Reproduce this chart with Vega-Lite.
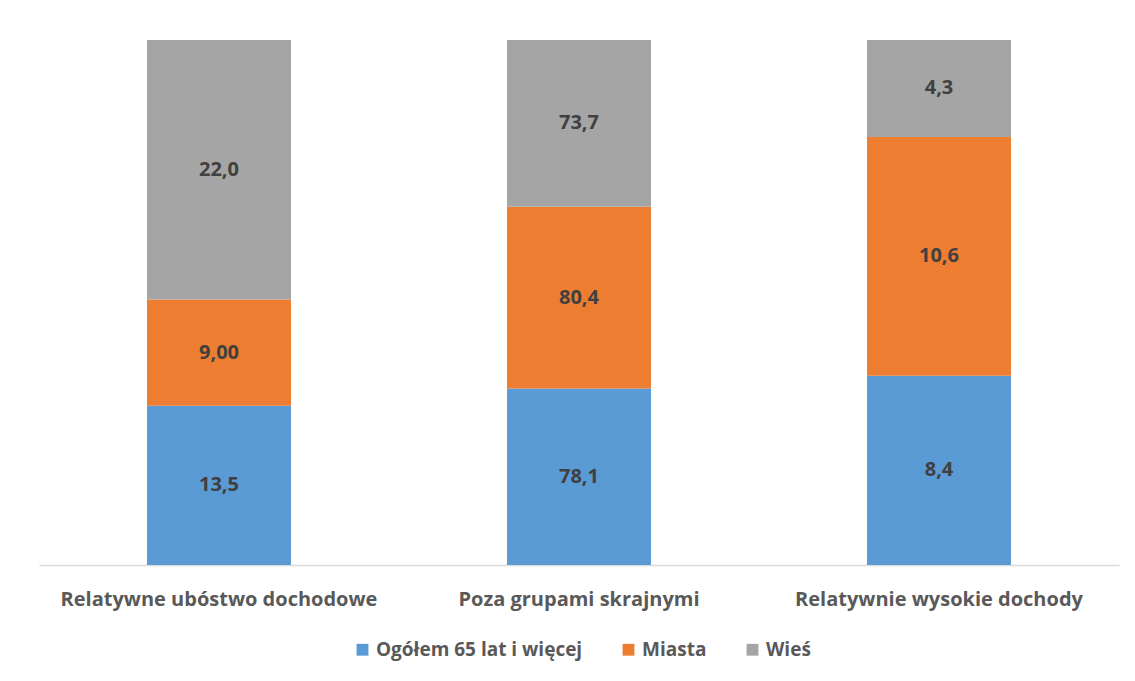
{
  "$schema": "https://vega.github.io/schema/vega-lite/v6.json",
  "width": 1080,
  "height": 525,
  "autosize": {"type": "none"},
  "padding": {"left": 39, "top": 40, "right": 16, "bottom": 116},
  "background": "white",
  "config": {"view": {"stroke": null}, "font": "Open Sans"},
  "data": {"values": [
    {"cat": "Relatywne ubóstwo dochodowe", "series": "Ogółem 65 lat i więcej", "k": 1, "value": 13.5, "label": "13,5"},
    {"cat": "Relatywne ubóstwo dochodowe", "series": "Miasta", "k": 2, "value": 9.0, "label": "9,00"},
    {"cat": "Relatywne ubóstwo dochodowe", "series": "Wieś", "k": 3, "value": 22.0, "label": "22,0"},
    {"cat": "Poza grupami skrajnymi", "series": "Ogółem 65 lat i więcej", "k": 1, "value": 78.1, "label": "78,1"},
    {"cat": "Poza grupami skrajnymi", "series": "Miasta", "k": 2, "value": 80.4, "label": "80,4"},
    {"cat": "Poza grupami skrajnymi", "series": "Wieś", "k": 3, "value": 73.7, "label": "73,7"},
    {"cat": "Relatywnie wysokie dochody", "series": "Ogółem 65 lat i więcej", "k": 1, "value": 8.4, "label": "8,4"},
    {"cat": "Relatywnie wysokie dochody", "series": "Miasta", "k": 2, "value": 10.6, "label": "10,6"},
    {"cat": "Relatywnie wysokie dochody", "series": "Wieś", "k": 3, "value": 4.3, "label": "4,3"}
  ]},
  "encoding": {
    "x": {"field": "cat", "type": "nominal", "sort": null,
      "scale": {"paddingInner": 0.6, "paddingOuter": 0.3},
      "axis": {"title": null, "labelAngle": 0, "labelFontSize": 20, "labelFontWeight": "bold", "labelColor": "#595959",
        "labelPadding": 24, "ticks": false, "domainColor": "#d9d9d9", "domainWidth": 1.5, "labelLimit": 400}},
    "y": {"field": "value", "type": "quantitative", "stack": "normalize", "axis": null},
    "order": {"field": "k", "type": "quantitative"}
  },
  "layer": [
    {"mark": {"type": "bar"},
     "encoding": {
       "color": {"field": "series", "type": "nominal",
         "scale": {"domain": ["Ogółem 65 lat i więcej", "Miasta", "Wieś"], "range": ["#5B9BD5", "#ED7D31", "#A5A5A5"]},
         "legend": {"title": null, "orient": "none", "legendX": 314, "legendY": 600, "direction": "horizontal", "symbolType": "square", "symbolSize": 140,
           "symbolStrokeWidth": 0, "labelFontSize": 19, "labelFontWeight": "bold", "labelColor": "#595959", "columnPadding": 36, "labelOffset": 4, "labelLimit": 400}}
     }},
    {"mark": {"type": "text", "fontSize": 20, "fontWeight": "bold", "color": "#404040"},
     "encoding": {
       "y": {"field": "value", "type": "quantitative", "stack": "normalize", "bandPosition": 0.5},
       "text": {"field": "label"}
     }}
  ]
}
